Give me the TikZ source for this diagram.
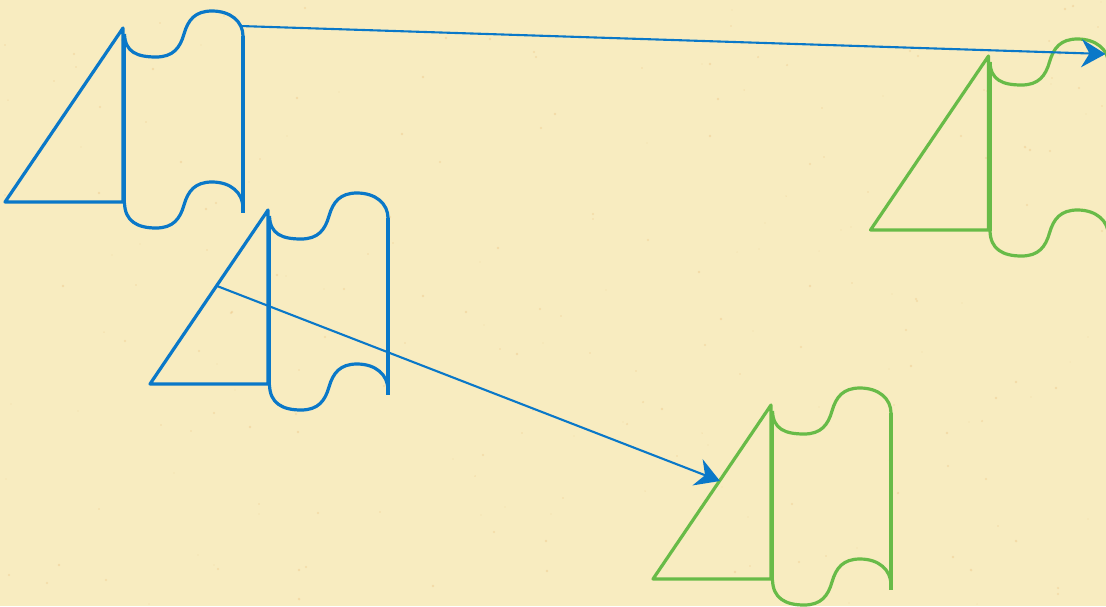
\documentclass[tikz,border=0pt]{standalone}
\usetikzlibrary{arrows.meta}
\definecolor{paper}{RGB}{248,236,192}
\definecolor{speck}{RGB}{232,180,110}
\definecolor{tblue}{RGB}{10,120,200}
\definecolor{tgreen}{RGB}{104,187,72}
\tikzset{
  shapeline/.style={line width=3.2pt, line join=round},
  moveline/.style={draw=tblue, line width=2.1pt, -{Stealth[length=24pt,width=28pt,inset=8pt]}},
  tapeshape/.pic={
    \coordinate (-apex) at (0,0);
    \coordinate (-P) at (117,-2);
    \coordinate (-Q) at (-51,76);
    % triangle
    \draw[shapeline] (0,0) -- (-118,174) -- (0,174) -- cycle;
    % left side of tape
    \draw[shapeline] (1.5,6) -- (1.5,175);
    % top wave
    \draw[shapeline] (1.5,6) .. controls (2,24) and (14,29) .. (33,29)
      .. controls (50,29) and (57,20) .. (61,6)
      .. controls (65,-8) and (72,-17) .. (89,-17)
      .. controls (108,-17) and (120,-6) .. (120,8);
    % right side
    \draw[shapeline] (120,8) -- (120,185);
    % bottom wave
    \draw[shapeline] (1.5,175) .. controls (2,193) and (14,200) .. (33,200)
      .. controls (50,200) and (57,191) .. (61,177)
      .. controls (65,163) and (72,154) .. (89,154)
      .. controls (108,154) and (120,165) .. (120,180);
  }
}
\begin{document}
\begin{tikzpicture}[x=1pt,y=-1pt]
  \useasboundingbox (0,0) rectangle (1106,606);
  \clip (0,0) rectangle (1106,606);
  \fill[paper] (0,0) rectangle (1106,606);
  \pgfmathsetseed{11}
  \foreach \i in {1,...,220}{
    \pgfmathsetmacro{\px}{random(0,1106)}
    \pgfmathsetmacro{\py}{random(0,606)}
    \pgfmathsetmacro{\pr}{0.5+1.0*rnd}
    \fill[speck, opacity=0.3] (\px,\py) circle[radius=\pr];
  }
  % shapes
  \pic[draw=tblue, tblue] (b1) at (123,28) {tapeshape};
  \pic[draw=tblue, tblue] (b2) at (268,210) {tapeshape};
  \pic[draw=tgreen, tgreen] (g1) at (988.5,56) {tapeshape};
  \pic[draw=tgreen, tgreen] (g2) at (771,405) {tapeshape};
  % translation arrows
  \draw[moveline] (b1-P) -- (g1-P);
  \draw[moveline] (b2-Q) -- (g2-Q);
\end{tikzpicture}
\end{document}
